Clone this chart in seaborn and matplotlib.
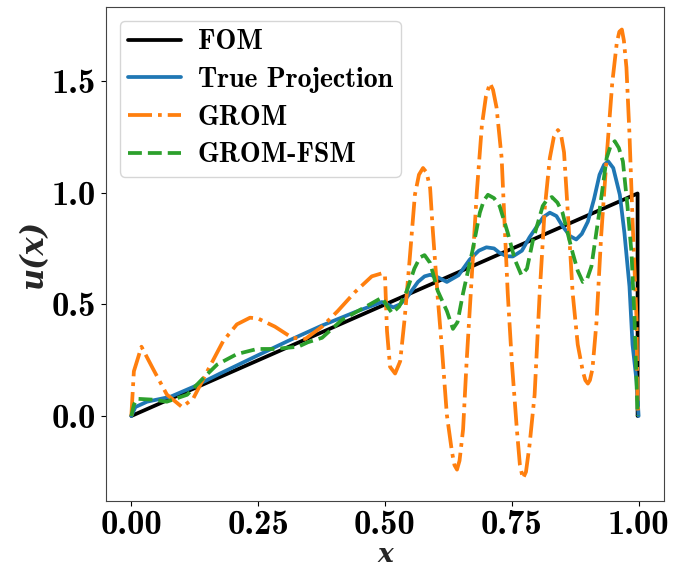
import numpy as np
import pandas as pd
import seaborn as sns
import matplotlib.pyplot as plt

# values
fom_x = [0.0, 0.998, 0.998]
fom_u = [0.0, 0.996, 0.0]

tp_x = [0.0, 0.008, 0.031, 0.077, 0.122, 0.175, 0.248, 0.309, 0.376, 0.441, 0.494,
        0.505, 0.516, 0.53, 0.543, 0.565, 0.578, 0.589, 0.605, 0.622, 0.645, 0.667,
        0.685, 0.700, 0.715, 0.726, 0.74, 0.752, 0.770, 0.785, 0.800, 0.812, 0.825,
        0.838, 0.850, 0.865, 0.877, 0.888, 0.900, 0.912, 0.923, 0.932, 0.940, 0.95,
        0.963, 0.972, 0.982, 0.988, 0.996, 1.0]
tp_u = [0.0, 0.04, 0.064, 0.086, 0.13, 0.19, 0.27, 0.336, 0.405, 0.465, 0.51,
        0.50, 0.486, 0.50, 0.53, 0.60, 0.625, 0.632, 0.62, 0.60, 0.63, 0.70,
        0.74, 0.755, 0.75, 0.73, 0.715, 0.714, 0.74, 0.80, 0.85, 0.89, 0.91,
        0.895, 0.85, 0.805, 0.79, 0.815, 0.87, 0.97, 1.08, 1.125, 1.14, 1.11,
        0.99, 0.82, 0.58, 0.32, 0.155, 0.0]

grom_x = [0.0, 0.005, 0.02, 0.043, 0.07, 0.10, 0.122, 0.152, 0.181, 0.208, 0.234,
          0.25, 0.283, 0.317, 0.343, 0.376, 0.407, 0.441, 0.474, 0.496, 0.50, 0.504,
          0.51, 0.52, 0.53, 0.539, 0.549, 0.559, 0.567, 0.575, 0.582, 0.589, 0.594,
          0.604, 0.612, 0.622, 0.632, 0.637, 0.642, 0.647, 0.654, 0.661, 0.671, 0.681,
          0.691, 0.699, 0.707, 0.713, 0.72, 0.73, 0.736, 0.742, 0.75, 0.76, 0.766,
          0.772, 0.778, 0.785, 0.795, 0.805, 0.815, 0.825, 0.833, 0.841, 0.847, 0.853,
          0.858, 0.864, 0.87, 0.88, 0.89, 0.895, 0.90, 0.904, 0.909, 0.917, 0.926,
          0.938, 0.948, 0.957, 0.962, 0.967, 0.971, 0.976, 0.982, 0.988, 0.996, 0.998,
          1.0]
grom_u = [0.0, 0.2, 0.31, 0.21, 0.096, 0.04, 0.078, 0.21, 0.335, 0.41, 0.44,
          0.436, 0.40, 0.35, 0.345, 0.40, 0.47, 0.555, 0.625, 0.64, 0.63, 0.38,
          0.22, 0.19, 0.245, 0.44, 0.71, 0.99, 1.08, 1.11, 1.09, 1.02, 0.84,
          0.53, 0.31, 0.005, -0.16, -0.22, -0.24, -0.2, -0.06, 0.245, 0.62, 1.0,
          1.30, 1.43, 1.49, 1.46, 1.38, 1.155, 0.85, 0.55, 0.245, -0.06, -0.22,
          -0.28, -0.25, -0.13, 0.095, 0.55, 0.93, 1.155, 1.25, 1.28, 1.26, 1.18,
          1.0, 0.78, 0.55, 0.32, 0.20, 0.16, 0.145, 0.16, 0.21, 0.42, 0.80,
          1.19, 1.49, 1.67, 1.72, 1.73, 1.68, 1.56, 1.26, 0.88, 0.43, 0.05,
          0.0]

fsm_x = [0.0, 0.005, 0.011, 0.043, 0.07, 0.11, 0.142, 0.169, 0.208, 0.248, 0.283,
         0.329, 0.348, 0.376, 0.415, 0.455, 0.494, 0.505, 0.514, 0.528, 0.543, 0.558,
         0.569, 0.578, 0.589, 0.604, 0.622, 0.634, 0.643, 0.654, 0.673, 0.687, 0.695,
         0.703, 0.715, 0.726, 0.742, 0.756, 0.769, 0.78, 0.792, 0.811, 0.82, 0.829,
         0.84, 0.85, 0.87, 0.88, 0.89, 0.898, 0.907, 0.923, 0.937, 0.945, 0.953,
         0.961, 0.969, 0.978, 0.986, 0.992, 0.998]
fsm_u = [0.0, 0.05, 0.077, 0.073, 0.064, 0.095, 0.17, 0.23, 0.277, 0.30, 0.30,
         0.31, 0.33, 0.35, 0.43, 0.48, 0.53, 0.49, 0.46, 0.49, 0.56, 0.66,
         0.71, 0.72, 0.685, 0.56, 0.47, 0.39, 0.42, 0.55, 0.745, 0.91, 0.965,
         0.99, 0.975, 0.94, 0.82, 0.70, 0.63, 0.66, 0.79, 0.94, 0.97, 0.98,
         0.955, 0.91, 0.73, 0.65, 0.60, 0.61, 0.67, 0.92, 1.155, 1.21, 1.23,
         1.2, 1.14, 0.94, 0.73, 0.43, 0.0]

sns.set_style("ticks")
plt.rcParams['font.family'] = ['cmb10', 'DejaVu Serif']
plt.rcParams['axes.formatter.use_mathtext'] = True
plt.rcParams['mathtext.fontset'] = 'cm'
plt.rcParams['text.color'] = 'black'

fig = plt.figure(figsize=(6.85, 5.71), dpi=100)
ax = fig.add_axes([0.1547, 0.1226, 0.8146, 0.8651])

lw = 2.7
sns.lineplot(x=fom_x, y=fom_u, ax=ax, color='black', lw=lw, sort=False, estimator=None, label='FOM')
sns.lineplot(x=tp_x, y=tp_u, ax=ax, color='#1f77b4', lw=lw, sort=False, estimator=None, label='True Projection')
sns.lineplot(x=grom_x, y=grom_u, ax=ax, color='#ff7f0e', lw=lw, ls='-.', sort=False, estimator=None, label='GROM')
sns.lineplot(x=fsm_x, y=fsm_u, ax=ax, color='#2ca02c', lw=lw, ls='--', sort=False, estimator=None, label='GROM-FSM')

ax.set_xticks([0.0, 0.25, 0.5, 0.75, 1.0])
ax.set_xticklabels(['0.00', '0.25', '0.50', '0.75', '1.00'])
ax.set_yticks([0.0, 0.5, 1.0, 1.5])
ax.set_yticklabels(['0.0', '0.5', '1.0', '1.5'])
ax.tick_params(labelsize=25, colors='black')
ax.tick_params(axis='x', pad=3)
for s in ax.spines.values():
    s.set_color('#444444')

ax.set_xlabel('x', fontsize=19, family='DejaVu Serif', style='italic', weight='bold', labelpad=1)
ax.set_ylabel('u(x)', fontsize=22, family='DejaVu Serif', style='italic', weight='bold', labelpad=2)

ax.legend(loc='upper left', fontsize=20, handlelength=1.9, labelspacing=0.42,
          handletextpad=0.6, borderpad=0.3)

fig.savefig('out.png', dpi=100)
